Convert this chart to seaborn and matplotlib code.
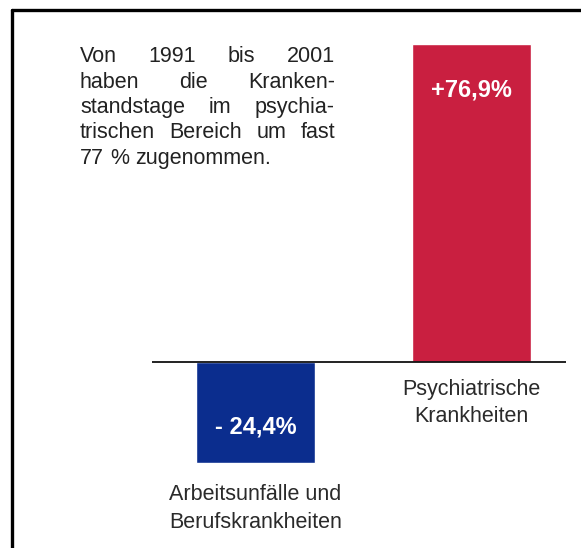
import matplotlib
matplotlib.use("Agg")
import matplotlib.pyplot as plt
from matplotlib.lines import Line2D
import seaborn as sns

# ---- data ----
categories = ["Arbeitsunfälle und\nBerufskrankheiten", "Psychiatrische\nKrankheiten"]
values = [-24.4, 76.9]
value_labels = ["- 24,4%", "+76,9%"]
bar_colors = ["#0B2D8E", "#C91F40"]
note_lines = [
    "Von 1991 bis 2001",
    "haben die Kranken-",
    "standstage im psychia-",
    "trischen Bereich um fast",
    "77 % zugenommen.",
]

W, H = 581, 548
sns.set_theme(style="white")
plt.rcParams["font.family"] = ["Liberation Sans", "DejaVu Sans"]

fig = plt.figure(figsize=(W / 100, H / 100), dpi=100)
fig.patch.set_facecolor("white")

def fx(x):
    return x / W

def fy(y):
    return 1 - y / H

# axes: x from 152px to 566px, y from 10px to 548px
ax = fig.add_axes([fx(152), 0, (566 - 152) / W, fy(10)])
sns.barplot(x=categories, y=values, hue=categories, palette=bar_colors,
            width=0.55, legend=False, ax=ax, saturation=1)
scale = (362 - 44) / 76.9  # px per unit
ax.set_ylim(-(548 - 362) / scale, 76.9 + (44 - 10) / scale)
c0_px, c1_px = 255.5, 471.5
u = c1_px - c0_px
ax.set_xlim(-(c0_px - 152) / u, 1 + (566 - c1_px) / u)
ax.axhline(0, color="#111111", lw=1.3)
ax.set_axis_off()

# value labels inside bars
label_px = [427, 90]
for i, (v, lab) in enumerate(zip(values, value_labels)):
    ax.text(i, -(label_px[i] - 362) / scale, lab, ha="center", va="center",
            color="white", fontsize=17, fontweight="bold")

# category labels
cat_px = [(495, 523), (389, 417)]
for i, cat in enumerate(categories):
    for part, ypx in zip(cat.split("\n"), cat_px[i]):
        ax.text(i, -(ypx - 362) / scale, part, ha="center", va="center",
                color="#2a2a2a", fontsize=15.5)

# frame lines (top and left)
fig.add_artist(Line2D([fx(12), fx(581)], [fy(10), fy(10)], color="black", lw=2.4))
fig.add_artist(Line2D([fx(12), fx(12)], [fy(10), fy(548)], color="black", lw=2.4))

# justified note text
fs = 15.5
fig.canvas.draw()
renderer = fig.canvas.get_renderer()
left, right = 80, 335
line_y = [56.5, 82, 107.5, 133, 158.5]
for i, line in enumerate(note_lines):
    words = line.split()
    y = fy(line_y[i])
    texts = [fig.text(0, y, w, ha="left", va="center", color="#222222",
                      fontsize=fs) for w in words]
    widths = [t.get_window_extent(renderer).width for t in texts]
    if i < len(note_lines) - 1 and len(words) > 1:
        gap = (right - left - sum(widths)) / (len(words) - 1)
    else:
        sp = fig.text(0, 0, "a a", fontsize=fs)
        sp2 = fig.text(0, 0, "aa", fontsize=fs)
        gap = sp.get_window_extent(renderer).width - sp2.get_window_extent(renderer).width
        sp.remove(); sp2.remove()
    x = left
    for t, w in zip(texts, widths):
        t.set_x(fx(x))
        x += w + gap

fig.savefig("out.png", dpi=100, facecolor="white")
